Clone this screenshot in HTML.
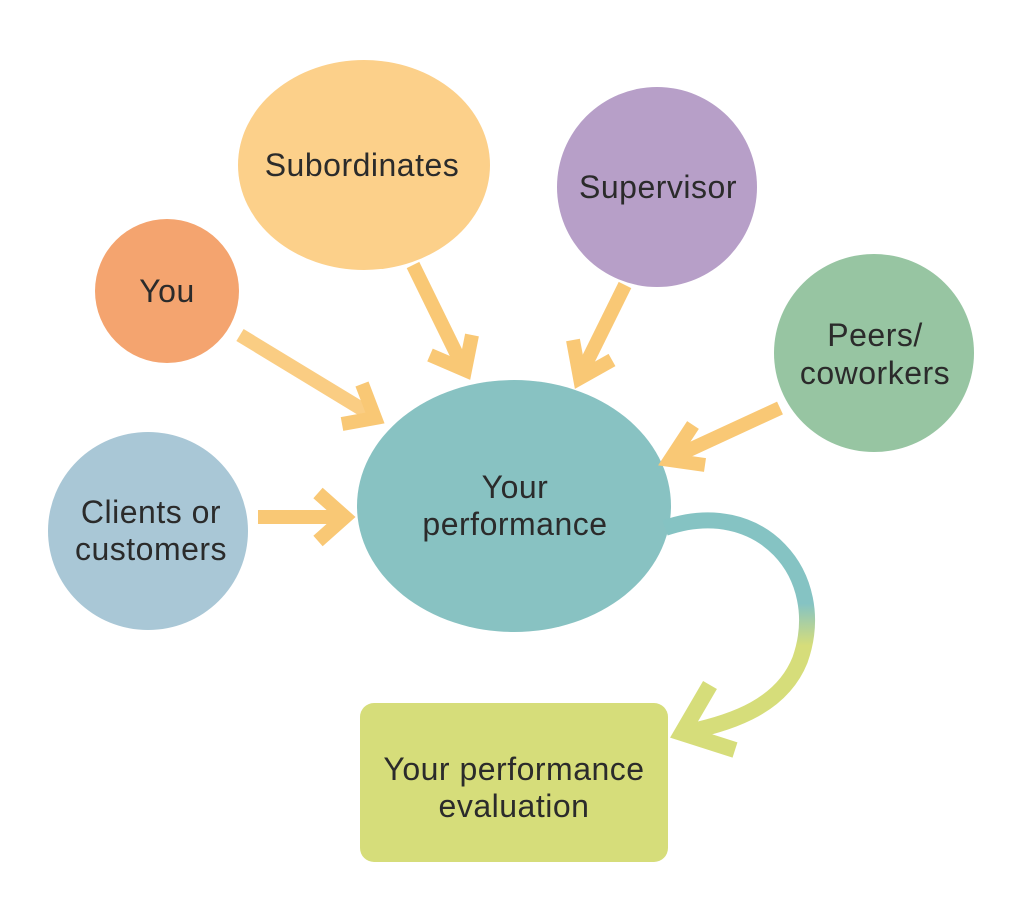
<!DOCTYPE html>
<html><head><style>body{margin:0;background:#fff}svg{display:block}</style></head><body>
<svg width="1024" height="909" viewBox="0 0 1024 909" xmlns="http://www.w3.org/2000/svg" font-family="Liberation Sans, sans-serif" font-size="32" letter-spacing="0.5" fill="#2b2b2b">
<defs>
<linearGradient id="curve" x1="0" y1="530" x2="0" y2="740" gradientUnits="userSpaceOnUse">
<stop offset="0.35" stop-color="#85c3c3"/><stop offset="0.55" stop-color="#d6dd7a"/><stop offset="1" stop-color="#d6dd7a"/>
</linearGradient>
</defs>
<ellipse cx="364" cy="165" rx="126" ry="105" fill="#fcd08a"/>
<ellipse cx="657" cy="187" rx="100" ry="100" fill="#b79fc8"/>
<ellipse cx="167" cy="291" rx="72" ry="72" fill="#f4a46f"/>
<ellipse cx="874" cy="353" rx="100" ry="99" fill="#97c5a2"/>
<ellipse cx="148" cy="531" rx="100" ry="99" fill="#a9c7d6"/>
<ellipse cx="514" cy="506" rx="157" ry="126" fill="#88c2c2"/>
<rect x="360" y="703" width="308" height="159" rx="14" fill="#d6dd7a"/>
<g stroke="#f9c875" stroke-width="14" fill="none" stroke-linecap="butt">
<line x1="240" y1="335" x2="370" y2="414" stroke-opacity="0.9"/>
<polyline points="342,424 375,418 362,384"/>
<line x1="413" y1="265" x2="462" y2="365"/>
<polyline points="430,355 465,370 472,335"/>
<line x1="625" y1="285" x2="582" y2="372"/>
<polyline points="573,340 580,378 612,360"/>
<line x1="780" y1="408" x2="676" y2="456"/>
<polyline points="693,425 670,460 705,465"/>
<line x1="258" y1="517" x2="346" y2="517"/>
<polyline points="318,493 345,517 318,541"/>
</g>
<path d="M665 528 C760 495 830 575 800 660 C782 705 735 722 688 732" stroke="url(#curve)" stroke-width="16" fill="none"/>
<polyline points="710,685 682,733 735,750" stroke="#d6dd7a" stroke-width="16" fill="none"/>
<text x="362" y="176" text-anchor="middle">Subordinates</text>
<text x="658" y="198" text-anchor="middle">Supervisor</text>
<text x="167" y="302" text-anchor="middle">You</text>
<text x="875" y="346" text-anchor="middle">Peers/</text>
<text x="875" y="384" text-anchor="middle">coworkers</text>
<text x="151" y="523" text-anchor="middle">Clients or</text>
<text x="151" y="560" text-anchor="middle">customers</text>
<text x="515" y="498" text-anchor="middle">Your</text>
<text x="515" y="535" text-anchor="middle">performance</text>
<text x="514" y="780" text-anchor="middle">Your performance</text>
<text x="514" y="817" text-anchor="middle">evaluation</text>
</svg>
</body></html>
